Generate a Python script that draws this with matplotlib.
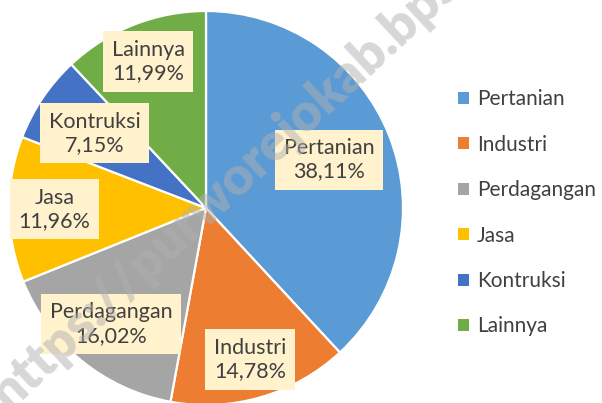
import numpy as np
import matplotlib.pyplot as plt
from matplotlib.patches import Patch

# share of sectors (%)
sectors = ["Pertanian", "Industri", "Perdagangan", "Jasa", "Kontruksi", "Lainnya"]
shares = [38.11, 14.78, 16.02, 11.96, 7.15, 11.99]
colors = ["#5B9BD5", "#ED7D31", "#A5A5A5", "#FFC000", "#4472C4", "#70AD47"]

plt.rcParams["font.family"] = ["Lato", "DejaVu Sans"]
txt_col = "#404040"

W, H = 602, 403
fig = plt.figure(figsize=(W / 100, H / 100), dpi=100)

# pie axes: centre (206, 208) px, radius 197 px
cx, cy, r = 206, 208, 197
ax = fig.add_axes([(cx - r) / W, (H - cy - r) / H, 2 * r / W, 2 * r / H])
wedges, _ = ax.pie(shares, colors=colors, startangle=90, counterclock=False,
                   radius=1, wedgeprops=dict(edgecolor="white", linewidth=1.6))
ax.set_xlim(-1, 1)
ax.set_ylim(-1, 1)
ax.axis("off")

# data labels inside slices
lab_r = [0.67, 0.80, 0.76, 0.77, 0.68, 0.80]
for w, name, val, rr in zip(wedges, sectors, shares, lab_r):
    ang = np.deg2rad((w.theta1 + w.theta2) / 2)
    ax.text(rr * np.cos(ang), rr * np.sin(ang),
            name + "\n" + ("%.2f%%" % val).replace(".", ","),
            ha="center", va="center", fontsize=15.5, color=txt_col,
            linespacing=1.2,
            bbox=dict(boxstyle="square,pad=0.4", fc="#FFF2CC", ec="none"))

# legend
handles = [Patch(facecolor=c, edgecolor="none") for c in colors]
fig.legend(handles, sectors, loc="upper left", bbox_to_anchor=(450 / W, 1 - 81 / H),
           frameon=False, fontsize=15, labelcolor=txt_col,
           handlelength=0.5, handleheight=0.5, handletextpad=0.4,
           labelspacing=1.22, borderaxespad=0)

# watermark
fig.text(8 / W, 1 - 412 / H, "https://purworejokab.bps.go.id", rotation=43,
         rotation_mode="anchor", ha="left", va="baseline", fontsize=38,
         fontweight="heavy", color="#B0B0B0", alpha=0.5)

fig.savefig("out.png", dpi=100)
